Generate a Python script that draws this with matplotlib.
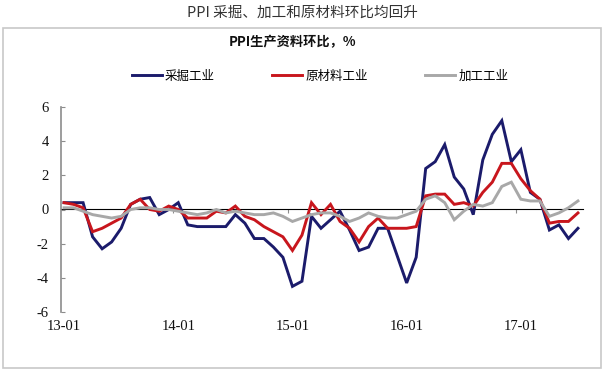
import matplotlib
matplotlib.use("Agg")
import matplotlib.pyplot as plt
from matplotlib.patches import Rectangle

plt.rcParams["font.family"] = ["Liberation Serif", "DejaVu Serif"]

# ---- data ----
years = ["13", "14", "15", "16", "17"]
months = [f"{y}-{m:02d}" for y in years for m in range(1, 13)][:55]
tick_labels = ["13-01", "14-01", "15-01", "16-01", "17-01"]
y_ticks = [-6, -4, -2, 0, 2, 4, 6]

mining = [0.4, 0.4, 0.4, -1.6, -2.3, -1.9, -1.1, 0.3, 0.6, 0.7, -0.3, 0.0,
          0.4, -0.9, -1.0, -1.0, -1.0, -1.0, -0.3, -0.8, -1.7, -1.7, -2.2, -2.8,
          -4.5, -4.2, -0.4, -1.1, -0.6, -0.1, -1.2, -2.4, -2.2, -1.1, -1.1, -2.7,
          -4.3, -2.8, 2.4, 2.8, 3.8, 1.9, 1.2, -0.3, 2.9, 4.4, 5.2, 2.8,
          3.5, 1.0, 0.6, -1.2, -0.9, -1.7, -1.1]
raw = [0.4, 0.3, 0.1, -1.3, -1.1, -0.8, -0.5, 0.3, 0.6, 0.0, -0.1, 0.2,
       0.0, -0.5, -0.5, -0.5, -0.1, -0.2, 0.2, -0.4, -0.6, -1.0, -1.3, -1.6,
       -2.4, -1.5, 0.4, -0.3, 0.3, -0.7, -1.1, -1.9, -1.0, -0.5, -1.1, -1.1,
       -1.1, -1.0, 0.8, 0.9, 0.9, 0.3, 0.4, 0.2, 1.0, 1.6, 2.7, 2.7,
       1.8, 1.1, 0.6, -0.8, -0.7, -0.7, -0.2]
processing = [0.1, 0.1, -0.1, -0.3, -0.4, -0.5, -0.4, 0.0, 0.1, 0.1, 0.0, 0.0,
              -0.1, -0.2, -0.3, -0.2, 0.0, -0.2, -0.1, -0.2, -0.3, -0.3, -0.2, -0.4,
              -0.7, -0.5, -0.3, -0.2, -0.2, -0.4, -0.7, -0.5, -0.2, -0.4, -0.5, -0.5,
              -0.3, -0.1, 0.6, 0.8, 0.4, -0.6, -0.1, 0.3, 0.2, 0.4, 1.35, 1.6,
              0.6, 0.5, 0.5, -0.4, -0.2, 0.1, 0.5]

series_names = ["采掘工业", "原材料工业", "加工工业"]
colors = ["#1B1B6B", "#C8161D", "#A8A8A8"]

CJK = ["Noto Sans CJK SC", "DejaVu Sans"]

W, H = 605, 373
fig = plt.figure(figsize=(W / 100, H / 100), dpi=100)
fig.patch.set_facecolor("white")

# outer frame
fig.add_artist(Rectangle((3 / W, 1 - 368 / H), 598 / W, 340 / H,
                         transform=fig.transFigure, fill=False,
                         edgecolor="#C8C8C8", linewidth=1.2))

fig.text(302 / W, 1 - 13 / H, "PPI 采掘、加工和原材料环比均回升",
         ha="center", va="center", fontsize=10.5, family=CJK, color="#333333",
         fontweight="light")
fig.text(292 / W, 1 - 42 / H, "PPI生产资料环比，%", ha="center", va="center",
         fontsize=9.5, family=CJK, fontweight="bold", color="#111111")

ax = fig.add_axes([61 / W, 1 - 312 / H, 522 / W, 205 / H])
x = list(range(len(months)))
lines = []
for vals, c, name in zip([mining, raw, processing], colors, series_names):
    ln, = ax.plot(x, vals, color=c, linewidth=2.1, label=name,
                  solid_joinstyle="miter", zorder=3)
    lines.append(ln)

ax.set_xlim(-0.32, 54.53)
ax.set_ylim(-6, 6)

for s in ["top", "right", "bottom"]:
    ax.spines[s].set_visible(False)
ax.spines["left"].set_color("#8C8C8C")
ax.spines["left"].set_linewidth(1.2)

ax.set_yticks(y_ticks)
ax.set_yticklabels([str(v) for v in y_ticks])
ax.tick_params(axis="y", direction="in", length=3, color="#8C8C8C", pad=9,
               labelsize=10.5, labelcolor="#111111")

ax.set_xticks([months.index(t) for t in tick_labels])
ax.set_xticklabels(tick_labels)
ax.tick_params(axis="x", length=0, pad=6, labelsize=10.5, labelcolor="#111111")

# zero axis with year separators
sec = ax.secondary_xaxis(0.5)
sec.set_xticks([months.index(t) - 0.5 for t in tick_labels[1:]])
sec.set_xticklabels([])
sec.tick_params(direction="in", length=3, color="#8C8C8C",
                labelbottom=False, labeltop=False)
sec.spines["bottom"].set_color("#8C8C8C")
sec.spines["bottom"].set_linewidth(1.5)

fig.legend(handles=lines, labels=series_names, loc="center",
           bbox_to_anchor=(320 / W, 1 - 76 / H), ncol=3, frameon=False,
           prop={"family": CJK, "size": 9}, handlelength=2.4,
           handletextpad=0.25, columnspacing=4.6, borderpad=0)

fig.savefig("out.png", dpi=100, facecolor="white")
